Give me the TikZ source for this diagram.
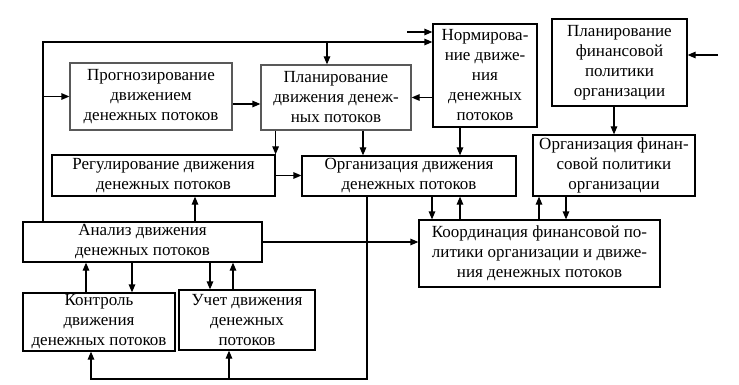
\documentclass[tikz,border=0pt]{standalone}
\usepackage{fontspec}
\setmainfont{Liberation Serif}
\usepackage{tikz}
\usetikzlibrary{arrows.meta, positioning, calc}

\begin{document}
\begin{tikzpicture}[
  x=1pt, y=-1pt,
  box/.style={draw=black, fill=white, line width=1.2pt, inner sep=1pt,
              font=\rmfamily\fontsize{17}{20}\selectfont, align=center},
  arr/.style={-{Triangle[length=8pt, width=6.5pt]}, line width=1.2pt}
]
  \useasboundingbox (0,0) rectangle (739,385);

  % upper row
  \node[box, draw=black!65, minimum width=162, minimum height=67] (prog) at (151,96.5)
    {Прогнозирование\\движением\\денежных потоков};
  \node[box, draw=black!65, minimum width=150, minimum height=65] (plan) at (336,97.5)
    {Планирование\\движения денеж-\\ных потоков};
  \node[box, minimum width=104, minimum height=103] (norm) at (485,75.5)
    {Нормирова-\\ние движе-\\ния\\денежных\\потоков};
  \node[box, minimum width=135, minimum height=87] (planfin) at (619.5,62.5)
    {Планирование\\финансовой\\политики\\организации};

  % middle row
  \node[box, minimum width=223, minimum height=41] (reg) at (163.5,175.5)
    {Регулирование движения\\денежных потоков};
  \node[box, minimum width=214, minimum height=40] (org) at (409,176)
    {Организация движения\\денежных потоков};
  \node[box, minimum width=162, minimum height=61] (orgfin) at (614,165.5)
    {Организация финан-\\совой политики\\организации};
  \node[box, minimum width=241, minimum height=67] (koord) at (539.5,253.5)
    {Координация финансовой по-\\литики организации и движе-\\ния денежных потоков};

  % lower row
  \node[box, minimum width=239, minimum height=40] (anal) at (142.5,242)
    {Анализ движения\\денежных потоков};
  \node[box, minimum width=152, minimum height=58] (kontr) at (99,322)
    {Контроль\\движения\\денежных потоков};
  \node[box, minimum width=136, minimum height=60] (uchet) at (247,320)
    {Учет движения\\денежных\\потоков};

  \coordinate (lt) at (43,42);
  \coordinate (nin) at (407,32);
  \coordinate (pin) at (718,55);
  \coordinate (bot) at (367,379);

  % feedback line on the left and top
  \draw[arr] (anal.north -| lt) -- (lt) -- (lt -| norm.west);
  \draw[arr] ([xshift=-9pt]plan.north |- lt) -- ([xshift=-9pt]plan.north);
  \draw[arr] (lt |- prog.west) -- (prog.west);
  \draw[arr] (nin) -- (nin -| norm.west);
  \draw[arr] (pin) -- (pin -| planfin.east);

  \draw[arr] ([yshift=-7.5pt]prog.east) -- ([yshift=-7.5pt]prog.east -| plan.west);
  \draw[arr] (norm.west |- plan) -- (plan.east);
  \draw[arr] (plan.south -| reg.east) -- (reg.north east);
  \draw[arr] (plan.south -| 363,0) -- (org.north -| 363,0);
  \draw[arr] (norm.south -| 460,0) -- (org.north -| 460,0);
  \draw[arr] (reg.east) -- (reg.east -| org.west);
  \draw[arr] (planfin.south -| orgfin) -- (orgfin.north);

  \draw[arr] (anal.north -| 195,0) -- (reg.south -| 195,0);
  \draw[arr] (anal.east) -- (anal.east -| koord.west);
  \draw[arr] (org.south -| 432,0) -- (koord.north -| 432,0);
  \draw[arr] (koord.north -| 460,0) -- (org.south -| 460,0);
  \draw[arr] (koord.north -| 539,0) -- (orgfin.south -| 539,0);
  \draw[arr] (orgfin.south -| 566,0) -- (koord.north -| 566,0);

  \draw[arr] (kontr.north -| 86,0) -- (anal.south -| 86,0);
  \draw[arr] (anal.south -| 132,0) -- (kontr.north -| 132,0);
  \draw[arr] (anal.south -| 210,0) -- (uchet.north -| 210,0);
  \draw[arr] (uchet.north -| 233,0) -- (anal.south -| 233,0);

  % bottom return line
  \draw[arr] (org.south -| bot) -- (bot) -| ([xshift=-8pt]kontr.south);
  \draw[arr] (bot -| 229,0) -- (uchet.south -| 229,0);
\end{tikzpicture}
\end{document}
